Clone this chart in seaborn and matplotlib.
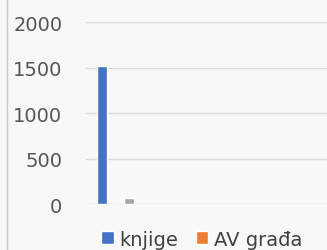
import matplotlib
matplotlib.use("Agg")
import matplotlib.pyplot as plt
import seaborn as sns
import pandas as pd
from matplotlib.lines import Line2D

categories = ["1"]
series = ["knjige", "AV građa", "ostalo"]
values = [1520, 5, 70]
colors = ["#4472C4", "#ED7D31", "#A5A5A5"]
y_ticks = [0, 500, 1000, 1500, 2000]

df = pd.DataFrame({
    "kategorija": categories * len(series),
    "vrsta": series,
    "broj": values,
})

sns.set_style("white")
plt.rcParams["font.family"] = ["DejaVu Sans"]

fig = plt.figure(figsize=(3.27, 2.51), dpi=100)
bg = "#f8f8f6"
fig.patch.set_facecolor(bg)
ax = fig.add_axes([0.263, 0.183, 0.737, 0.725])
ax.set_facecolor(bg)

sns.barplot(data=df, x="kategorija", y="broj", hue="vrsta", hue_order=series,
            palette=colors, saturation=1, width=0.8, gap=0.26, ax=ax, legend=True)

ax.set_ylim(0, 2000)
ax.set_xlim(-0.59, 4.17)
ax.set_yticks(y_ticks)
ax.yaxis.grid(True, color="#d9d9d9", linewidth=1)
ax.set_axisbelow(True)
for s in ax.spines.values():
    s.set_visible(False)
ax.set_xticks([])
ax.set_xlabel("")
ax.set_ylabel("")
ax.tick_params(axis="y", length=0, pad=17, labelsize=14, labelcolor="#555555")

handles, labels = ax.get_legend_handles_labels()
ax.get_legend().remove()
fig.legend(handles[:2], labels[:2], loc="lower left", bbox_to_anchor=(0.255, -0.065),
           ncol=2, frameon=False, fontsize=14, handlelength=0.65, handleheight=0.65,
           handletextpad=0.3, columnspacing=0.9, labelcolor="#404040")

# left border of the chart area
fig.add_artist(Line2D([0.022, 0.022], [0, 1], color="#c8c8c8", linewidth=1,
                      transform=fig.transFigure))

fig.savefig("out.png", dpi=100, facecolor=bg)
